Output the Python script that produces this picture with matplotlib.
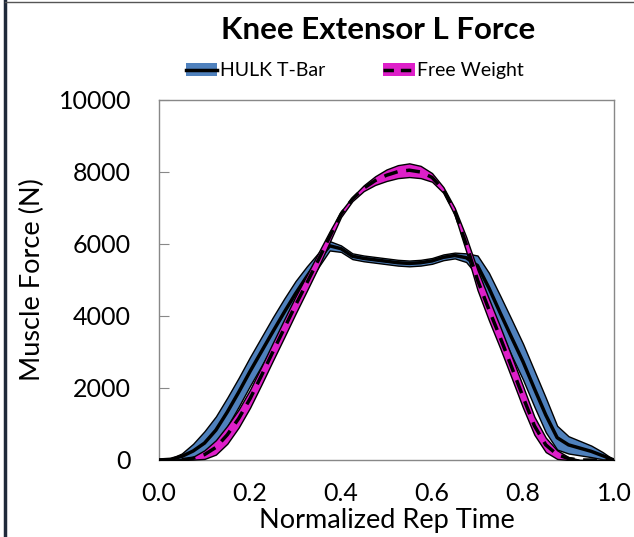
import matplotlib
matplotlib.use('Agg')
import matplotlib.pyplot as plt
from matplotlib.patches import Patch
from matplotlib.lines import Line2D
import numpy as np

plt.rcParams['font.family'] = ['Lato', 'DejaVu Sans']

# normalized rep time
rep_time = [0, .025, .05, .075, .1, .125, .15, .175, .2, .225, .25, .275, .3, .325, .35, .375,
            .4, .425, .45, .475, .5, .525, .55, .575, .6, .625, .65, .675, .7, .725, .75, .775,
            .8, .825, .85, .875, .9, .925, .95, .975, 1.0]

# HULK T-Bar force (N), mean and sd
hulk_mean = [0, 20, 100, 250, 470, 830, 1330, 1880, 2460, 3010, 3560, 4100, 4620, 5100, 5550, 5950,
             5870, 5660, 5600, 5560, 5520, 5480, 5460, 5480, 5530, 5630, 5680, 5620, 5400, 4780, 4080, 3400,
             2730, 1980, 1250, 620, 420, 330, 240, 120, 0]
hulk_sd = [0, 20, 80, 200, 330, 380, 400, 400, 400, 400, 400, 380, 350, 280, 200, 130,
           90, 80, 80, 80, 80, 80, 80, 80, 80, 80, 80, 120, 280, 420, 480, 500,
           500, 500, 480, 330, 240, 200, 160, 100, 0]

# Free Weight force (N), mean and sd
fw_mean = [0, 0, 10, 50, 150, 350, 700, 1150, 1700, 2340, 3000, 3650, 4300, 4920, 5550, 6200,
           6830, 7250, 7550, 7760, 7910, 8010, 8050, 8000, 7850, 7500, 6900, 6000, 5000, 4180, 3400, 2580,
           1750, 950, 420, 150, 40, 0, 0, 0, 0]
fw_sd = [0, 0, 10, 40, 120, 200, 250, 250, 250, 250, 250, 250, 240, 220, 200, 150,
         80, 60, 80, 120, 160, 180, 190, 170, 120, 80, 100, 200, 280, 300, 300, 300,
         300, 250, 200, 120, 40, 0, 0, 0, 0]

blue = '#4F81BD'
magenta = '#DE1FC9'

x = np.array(rep_time)
hm = np.array(hulk_mean)
hs = np.array(hulk_sd)
fm = np.array(fw_mean)
fs = np.array(fw_sd)

fig = plt.figure(figsize=(6.34, 5.37), dpi=100)
ax = fig.add_axes([0.2508, 0.1434, 0.7177, 0.6704])

ax.fill_between(x, hm - hs, hm + hs, facecolor=blue, edgecolor='black', linewidth=1.0, zorder=2)
ax.plot(x, hm, color='black', linewidth=2.5, zorder=3, solid_joinstyle='round')
ax.fill_between(x, fm - fs, fm + fs, facecolor=magenta, edgecolor='black', linewidth=1.0, zorder=4)
ax.plot(x, fm, color='black', linewidth=2.5, linestyle=(0, (4, 2.5)), zorder=5)

ax.set_xlim(0, 1)
ax.set_ylim(0, 10000)
ax.set_xticks([0, 0.2, 0.4, 0.6, 0.8, 1.0])
ax.set_xticklabels(['0.0', '0.2', '0.4', '0.6', '0.8', '1.0'])
ax.set_yticks([0, 2000, 4000, 6000, 8000, 10000])
ax.tick_params(axis='y', direction='in', length=7, color='#888888', labelsize=18, pad=20)
ax.tick_params(axis='x', length=0, labelsize=18, pad=16)
for s in ax.spines.values():
    s.set_color('#888888')
    s.set_linewidth(1.0)

ax.set_xlabel('Normalized Rep Time', fontsize=19.5, labelpad=2)
ax.set_ylabel('Muscle Force (N)', fontsize=19.5, labelpad=10)
fig.text(0.596, 0.944, 'Knee Extensor L Force', ha='center', va='center',
         fontsize=22.5, fontweight='bold')

h1 = (Patch(facecolor=blue, edgecolor='none'), Line2D([], [], color='black', linewidth=2.5))
h2 = (Patch(facecolor=magenta, edgecolor='none'), Line2D([], [], color='black', linewidth=2.5, linestyle=(0, (3, 2))))
fig.legend([h1, h2], ['HULK T-Bar', 'Free Weight'], loc='center', bbox_to_anchor=(0.560, 0.868),
           ncol=2, frameon=False, fontsize=14, handlelength=1.6, handletextpad=0.15, columnspacing=3.0)

# border lines of the slide
fig.add_artist(Line2D([0.008, 0.008], [0, 1], color='#1F2A3A', linewidth=2.5))
fig.add_artist(Line2D([0.008, 1], [0.996, 0.996], color='#555555', linewidth=1.0))

fig.savefig('out.png', dpi=100)
